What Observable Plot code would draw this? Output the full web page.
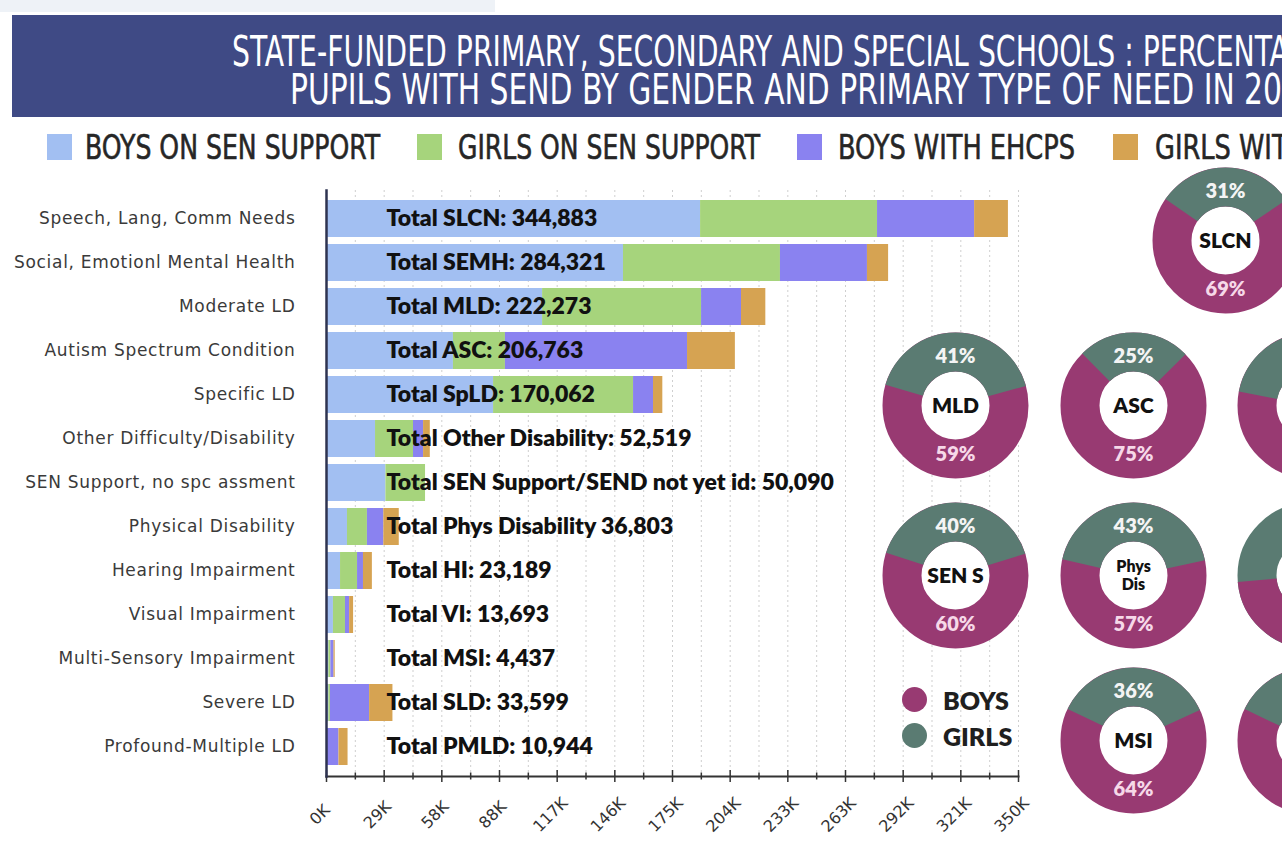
<!DOCTYPE html>
<html>
<head>
<meta charset="utf-8">
<script src="https://cdn.jsdelivr.net/npm/d3@7"></script>
<script src="https://cdn.jsdelivr.net/npm/@observablehq/plot@0.6"></script>
<style>
html, body { margin: 0; padding: 0; background: #fff; width: 1282px; height: 843px; overflow: hidden; }
#page { position: relative; width: 1282px; height: 843px; overflow: hidden; background: #fff; }
.strip { position: absolute; left: 0; top: 0; width: 495px; height: 12px; background: #eef2f7; }
.banner { position: absolute; left: 12px; top: 15px; width: 1400px; height: 102px; background: #3f4a85; }
.tline { position: absolute; white-space: nowrap; color: #fff; font-family: "DejaVu Sans Condensed", "DejaVu Sans", sans-serif; font-stretch: condensed; font-size: 42px; line-height: 30px; transform-origin: 0 0; }
.sw { position: absolute; width: 25px; height: 26px; top: 134px; }
.lt { position: absolute; top: 130px; white-space: nowrap; color: #262626; font-family: "DejaVu Sans Condensed", "DejaVu Sans", sans-serif; font-stretch: condensed; font-weight: normal; font-size: 34px; line-height: 34px; transform-origin: 0 0; -webkit-text-stroke: 0.6px #262626; }
#main { position: absolute; left: 0; top: 170px; }
.donut { position: absolute; width: 150px; height: 150px; }
.gl { position: absolute; font-family: Lato, sans-serif; font-weight: 800; font-size: 25px; color: #1f1f1f; line-height: 25px; }
.gd { position: absolute; width: 25px; height: 25px; border-radius: 50%; }
.mainplot g[aria-label="y-axis tick label"] text { letter-spacing: 0.7px; }
</style>
</head>
<body>
<div id="page">
  <div class="strip"></div>
  <div class="banner"></div>
  <div class="tline" id="t1" data-prefix="STATE-FUNDED PRIMARY, SECONDARY AND SPECIAL SCHOOLS : PERCENT" data-target="1040" style="left:232px; top:37px;">STATE-FUNDED PRIMARY, SECONDARY AND SPECIAL SCHOOLS : PERCENTAGE OF</div>
  <div class="tline" id="t2" data-prefix="PUPILS WITH SEND BY GENDER AND PRIMARY TYPE OF NEED IN 20" data-target="992" style="left:290px; top:75px;">PUPILS WITH SEND BY GENDER AND PRIMARY TYPE OF NEED IN 2023</div>
  <div id="legend"></div>
  <div id="main"></div>
  <div id="donuts"></div>
  <div id="glegend"></div>
</div>
<script>
// ---------- data ----------
const needs = [
  "Speech, Lang, Comm Needs",
  "Social, Emotionl Mental Health",
  "Moderate LD",
  "Autism Spectrum Condition",
  "Specific LD",
  "Other Difficulty/Disability",
  "SEN Support, no spc assment",
  "Physical Disability",
  "Hearing Impairment",
  "Visual Impairment",
  "Multi-Sensory Impairment",
  "Severe LD",
  "Profound-Multiple LD"
];
const totalLabels = [
  "Total SLCN: 344,883",
  "Total SEMH: 284,321",
  "Total MLD: 222,273",
  "Total ASC: 206,763",
  "Total SpLD: 170,062",
  "Total Other Disability: 52,519",
  "Total SEN Support/SEND not yet id: 50,090",
  "Total Phys Disability 36,803",
  "Total HI: 23,189",
  "Total VI: 13,693",
  "Total MSI: 4,437",
  "Total SLD: 33,599",
  "Total PMLD: 10,944"
];
const groups = ["BOYS ON SEN SUPPORT", "GIRLS ON SEN SUPPORT", "BOYS WITH EHCPS", "GIRLS WITH EHCPS"];
const groupColors = ["#a2bff2", "#a6d47c", "#8a82f0", "#d6a352"];
// values in thousands of pupils
const boysSenSupport  = [189.2, 150.2, 109.3, 64.2, 84.5, 24.8, 30.05, 10.6, 7.1, 3.5, 1.2, 1.2, 0.3];
const girlsSenSupport = [ 89.5,  79.4,  80.4, 26.3, 70.8, 19.2, 20.04, 10.1, 8.6, 6.1, 1.0, 0.8, 0.2];
const boysEhcp        = [ 49.1,  44.0,  20.2, 92.1, 10.1,  5.1,  0.0,   8.3, 3.0, 2.1, 1.6, 19.8, 5.8];
const girlsEhcp       = [ 17.1,  10.7,  12.3, 24.2,  4.7,  3.4,  0.0,   7.8, 4.5, 2.0, 0.6, 11.8, 4.6];
const xTickValues = [0, 29.17, 58.33, 87.5, 116.67, 145.83, 175, 204.17, 233.33, 262.5, 291.67, 320.83, 350];
const xTickLabels = ["0K", "29K", "58K", "88K", "117K", "146K", "175K", "204K", "233K", "263K", "292K", "321K", "350K"];
const xMinorTicks = [14.58, 43.75, 72.92, 102.08, 131.25, 160.42, 189.58, 218.75, 247.92, 277.08, 306.25, 335.42];

// donuts: label, girls %, boys %
const donutLabels = ["SLCN", "MLD", "ASC", "SpLD", "SEN S", "Phys\nDis", "HI", "MSI", "SLD"];
const donutGirls  = [31, 41, 25, 44, 40, 43, 53, 36, 36];
const donutBoys   = [69, 59, 75, 56, 60, 57, 47, 64, 64];
const genderLabels = ["BOYS", "GIRLS"];
const genderColors = ["#983a72", "#5a7b72"];

// ---------- title / legend ----------
function fitText(el, prefix, target) {
  const probe = document.createElement("span");
  probe.className = el.className;
  probe.style.position = "absolute"; probe.style.visibility = "hidden"; probe.style.left = "0"; probe.style.top = "0";
  probe.textContent = prefix;
  document.getElementById("page").appendChild(probe);
  const w = probe.getBoundingClientRect().width;
  probe.remove();
  el.style.transform = `scaleX(${target / w})`;
  return target / w;
}
["t1", "t2"].forEach(id => {
  const el = document.getElementById(id);
  fitText(el, el.dataset.prefix, +el.dataset.target);
});

const legend = document.getElementById("legend");
const swLeft = [47, 417, 797, 1113];
const txLeft = [85, 458, 838, 1155];
const txWidth = [295, 302, 237, null];
let lastScale = 1;
groups.forEach((g, i) => {
  const sw = document.createElement("div");
  sw.className = "sw"; sw.style.left = swLeft[i] + "px"; sw.style.background = groupColors[i];
  legend.appendChild(sw);
  const t = document.createElement("div");
  t.className = "lt"; t.style.left = txLeft[i] + "px"; t.textContent = g;
  legend.appendChild(t);
  if (txWidth[i]) lastScale = fitText(t, g, txWidth[i]);
  else t.style.transform = `scaleX(${lastScale})`;
});

// ---------- main bar chart ----------
const series = [boysSenSupport, girlsSenSupport, boysEhcp, girlsEhcp];
const rows = [];
groups.forEach((g, gi) => needs.forEach((n, i) => rows.push({need: n, group: g, value: series[gi][i]})));
const labelRows = needs.map((n, i) => ({need: n, label: totalLabels[i]}));
const tickRows = xTickValues.map((v, i) => ({value: v, label: xTickLabels[i]}));

const main = Plot.plot({
  className: "mainplot",
  width: 1050,
  height: 673,
  marginLeft: 326,
  marginRight: 32,
  marginTop: 20,
  marginBottom: 67,
  style: {background: "transparent", fontFamily: "DejaVu Sans, sans-serif", overflow: "visible"},
  x: {domain: [0, 350]},
  y: {domain: needs, padding: 0.15},
  color: {domain: groups, range: groupColors},
  marks: [
    Plot.ruleX(xTickValues.concat(xMinorTicks), {stroke: "#cfcfcf", strokeDasharray: "2,3", strokeWidth: 1}),
    Plot.barX(rows, {y: "need", x: "value", fill: "group"}),
    Plot.text(labelRows, {y: "need", x: 0, text: "label", dx: 60, textAnchor: "start", fill: "#111", fontSize: 23, fontWeight: 800, fontFamily: "Lato, sans-serif"}),
    Plot.axisY({tickSize: 0, tickPadding: 31, fontSize: 17, fill: "#3a3a3a", label: null}),
    Plot.axisX(xMinorTicks, {tickSize: 7, dy: -3.5, tickFormat: () => "", label: null, stroke: "#333", strokeWidth: 1.5}),
    Plot.axisX(xTickValues, {tickSize: 12, dy: -6, tickFormat: () => "", label: null, stroke: "#333", strokeWidth: 1.5}),
    Plot.text(tickRows, {x: "value", text: "label", frameAnchor: "bottom", dy: 42, dx: -3, rotate: -45, textAnchor: "middle", fontSize: 16, fill: "#333"}),
    Plot.frame({anchor: "bottom", stroke: "#333", strokeWidth: 2}),
    Plot.frame({anchor: "left", stroke: "#2e3350", strokeWidth: 2.5})
  ]
});
document.getElementById("main").appendChild(main);

// ---------- donuts ----------
const donutCenters = [[1225, 240], [955, 405], [1133, 405], [1310, 405], [955, 575], [1133, 575], [1310, 575], [1133, 740], [1310, 740]];
const R = 53.5, W = 39;
function donut(label, girls, boys) {
  const C = 2 * Math.PI * R;
  // smaller share drawn as an arc on top of a full ring of the larger share
  const girlsArc = girls <= boys;
  const frac = (girlsArc ? girls : boys) / 100;
  const mid = girlsArc ? 270 : 90;
  const start = (mid - 180 * frac) / 360 * C;
  const len = frac * C;
  const lines = label.split("\n");
  return Plot.plot({
    width: 150, height: 150, margin: 0,
    style: {background: "transparent", overflow: "visible"},
    marks: [
      Plot.dot([label], {frameAnchor: "middle", r: R, stroke: girlsArc ? genderColors[0] : genderColors[1], strokeWidth: W, fill: "#fff"}),
      Plot.dot([label], {frameAnchor: "middle", r: R, stroke: girlsArc ? genderColors[1] : genderColors[0], strokeWidth: W, fill: "none", strokeDasharray: `0 ${start} ${len} ${C}`}),
      Plot.text([girls + "%"], {frameAnchor: "middle", dy: -49, fill: "#f4f4f4", fontSize: 20, fontWeight: 800, fontFamily: "Lato, sans-serif"}),
      Plot.text([boys + "%"], {frameAnchor: "middle", dy: 49, fill: "#f6d8e8", fontSize: 20, fontWeight: 800, fontFamily: "Lato, sans-serif"}),
      Plot.text([label], {frameAnchor: "middle", fill: "#111", fontSize: lines.length > 1 ? 16 : 21, fontWeight: 800, fontFamily: "Lato, sans-serif", lineHeight: 1.1, letterSpacing: "-0.5px"})
    ]
  });
}
const dz = document.getElementById("donuts");
donutLabels.forEach((l, i) => {
  const d = document.createElement("div");
  d.className = "donut";
  d.style.left = (donutCenters[i][0] - 75) + "px";
  d.style.top = (donutCenters[i][1] - 75) + "px";
  d.appendChild(donut(l, donutGirls[i], donutBoys[i]));
  dz.appendChild(d);
});

// ---------- gender legend ----------
const gl = document.getElementById("glegend");
genderLabels.forEach((g, i) => {
  const c = document.createElement("div");
  c.className = "gd"; c.style.left = "902px"; c.style.top = (687 + i * 36) + "px"; c.style.background = genderColors[i];
  gl.appendChild(c);
  const t = document.createElement("div");
  t.className = "gl"; t.style.left = "943px"; t.style.top = (688 + i * 36) + "px"; t.textContent = g;
  gl.appendChild(t);
});
</script>
</body>
</html>
